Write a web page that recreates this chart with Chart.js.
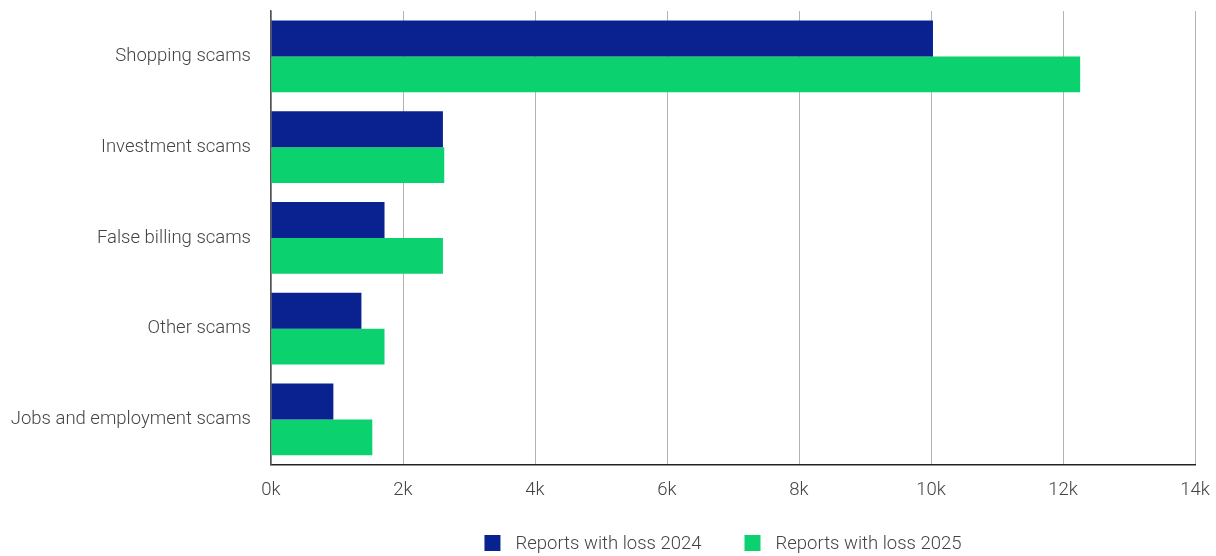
<!DOCTYPE html>
<html>
<head>
<meta charset="utf-8">
<script src="https://cdn.jsdelivr.net/npm/chart.js@4/dist/chart.umd.min.js"></script>
<style>
  html, body { margin: 0; padding: 0; background: #fff; }
  .wrap { width: 1216px; height: 556px; }
</style>
</head>
<body>
<div class="wrap"><canvas id="scams"></canvas></div>
<script>
const categories = ['Shopping scams', 'Investment scams', 'False billing scams', 'Other scams', 'Jobs and employment scams'];
const losses2024 = [10030, 2605, 1720, 1370, 945];
const losses2025 = [12260, 2625, 2605, 1720, 1535];
const seriesNames = ['Reports with loss 2024', 'Reports with loss 2025'];

const navy = '#0a228f';
const green = '#0bd26e';
const textColour = '#444444';
const fontSize = 18.5;

Chart.defaults.font.family = 'Roboto, sans-serif';
Chart.defaults.font.weight = 300;
Chart.defaults.font.size = fontSize;
Chart.defaults.color = textColour;

// legend drawn by hand so it can sit centred under the plot area
const bottomLegend = {
  id: 'bottomLegend',
  afterDraw(chart) {
    const ctx = chart.ctx;
    const box = 16, gapText = 15, gapItem = 43;
    ctx.save();
    ctx.font = '300 ' + fontSize + 'px Roboto, sans-serif';
    ctx.textBaseline = 'middle';
    const items = chart.data.datasets.map(ds => ({
      text: ds.label,
      colour: ds.backgroundColor,
      w: box + gapText + ctx.measureText(ds.label).width
    }));
    const total = items.reduce((s, it) => s + it.w, 0) + gapItem * (items.length - 1);
    let x = (chart.chartArea.left + chart.chartArea.right) / 2 - 10 - total / 2;
    const y = chart.height - 13;
    items.forEach(it => {
      ctx.fillStyle = it.colour;
      ctx.fillRect(x, y - box / 2, box, box);
      ctx.fillStyle = textColour;
      ctx.fillText(it.text, x + box + gapText, y + 1);
      x += it.w + gapItem;
    });
    ctx.restore();
  }
};

new Chart(document.getElementById('scams'), {
  type: 'bar',
  data: {
    labels: categories,
    datasets: [
      { label: seriesNames[0], data: losses2024, backgroundColor: navy },
      { label: seriesNames[1], data: losses2025, backgroundColor: green }
    ]
  },
  options: {
    indexAxis: 'y',
    responsive: true,
    maintainAspectRatio: false,
    animation: false,
    datasets: {
      bar: { barPercentage: 1, categoryPercentage: 0.79 }
    },
    layout: { padding: { top: 11, right: 21, left: 0, bottom: 41 } },
    scales: {
      x: {
        min: 0,
        max: 14000,
        ticks: {
          stepSize: 2000,
          padding: 14,
          callback: v => (v / 1000) + 'k'
        },
        grid: { color: '#b3b3b3', drawTicks: false },
        border: { color: '#222', width: 1.5 },
        afterFit(scale) {
          scale.paddingLeft = 0;
          scale.paddingRight = 0;
        }
      },
      y: {
        ticks: { padding: 20 },
        grid: { display: false, drawTicks: false },
        border: { color: '#555', width: 1.5 },
        afterFit(scale) {
          scale.width = 271;
          scale.paddingTop = 0;
          scale.paddingBottom = 0;
        }
      }
    },
    plugins: {
      legend: { display: false },
      tooltip: { enabled: false }
    }
  },
  plugins: [bottomLegend]
});
</script>
</body>
</html>
